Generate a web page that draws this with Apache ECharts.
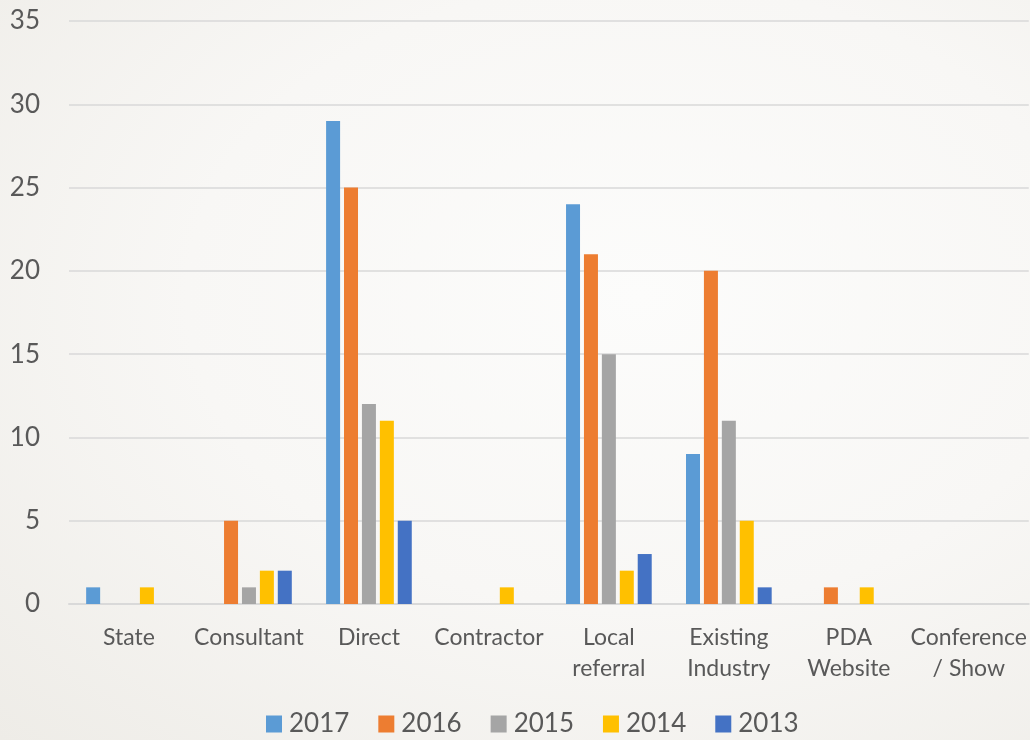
<!DOCTYPE html>
<html>
<head>
<meta charset="utf-8">
<script src="https://cdn.jsdelivr.net/npm/echarts@6/dist/echarts.min.js"></script>
<style>
html,body{margin:0;padding:0;}
body{width:1030px;height:740px;background:radial-gradient(ellipse at 62% 40%, #fcfcfb 0%, #f8f7f5 50%, #eeece7 100%);}
#chart{width:1030px;height:740px;}
</style>
</head>
<body>
<div id="chart"></div>
<script>
const categories = ['State', 'Consultant', 'Direct', 'Contractor', 'Local\nreferral', 'Existing\nIndustry', 'PDA\nWebsite', 'Conference\n/ Show'];
const years = ['2017', '2016', '2015', '2014', '2013'];
const v2017 = [1, 0, 29, 0, 24, 9, 0, 0];
const v2016 = [0, 5, 25, 0, 21, 20, 1, 0];
const v2015 = [0, 1, 12, 0, 15, 11, 0, 0];
const v2014 = [1, 2, 11, 1, 2, 5, 1, 0];
const v2013 = [0, 2, 5, 0, 3, 1, 0, 0];
const yTicks = [0, 5, 10, 15, 20, 25, 30, 35];
const colors = ['#5B9BD5', '#ED7D31', '#A5A5A5', '#FFC000', '#4472C4'];
const values = [v2017, v2016, v2015, v2014, v2013];

const chart = echarts.init(document.getElementById('chart'), null, {renderer: 'canvas'});
const FONT = 'Lato';
chart.setOption({
  backgroundColor: 'transparent',
  animation: false,
  color: colors,
  grid: {left: 69, right: 1, top: 21, bottom: 136, containLabel: false},
  legend: {
    data: years,
    left: 261,
    top: 706,
    itemWidth: 16,
    itemHeight: 17,
    itemGap: 29,
    icon: 'rect',
    textStyle: {color: '#595959', fontSize: 26, fontFamily: FONT, padding: [0, 0, 0, 2]}
  },
  xAxis: {
    type: 'category',
    data: categories,
    axisLine: {show: true, lineStyle: {color: '#d9d9d9', width: 2}},
    axisTick: {show: false},
    axisLabel: {interval: 0, color: '#595959', fontSize: 23, fontFamily: FONT, lineHeight: 31, margin: 18}
  },
  yAxis: {
    type: 'value',
    min: yTicks[0],
    max: yTicks[yTicks.length - 1],
    interval: 5,
    axisLine: {show: false},
    axisTick: {show: false},
    splitLine: {lineStyle: {color: '#d9d9d9', width: 1.5}},
    axisLabel: {color: '#595959', fontSize: 26, fontFamily: FONT, margin: 29}
  },
  series: years.map((y, i) => ({
    name: y,
    type: 'bar',
    data: values[i],
    barWidth: 14,
    barGap: '28%',
    itemStyle: {color: colors[i]}
  }))
});
</script>
</body>
</html>
